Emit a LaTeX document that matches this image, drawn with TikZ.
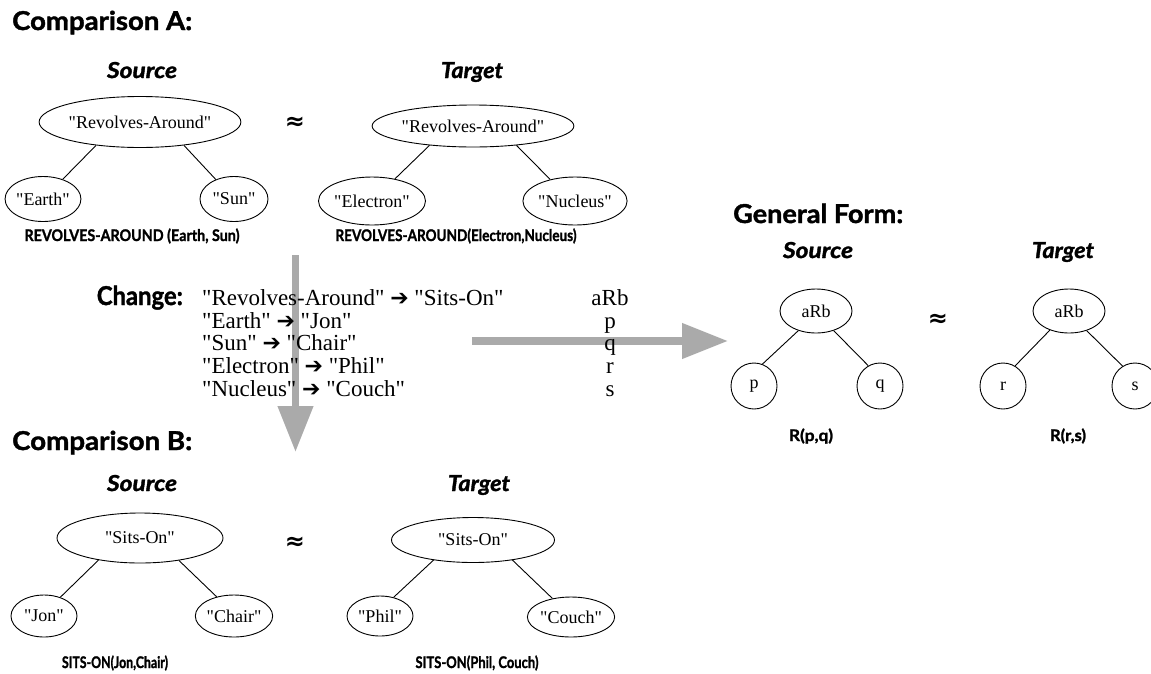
\documentclass[tikz,border=0pt]{standalone}
\usepackage{graphicx}
\usepackage{fontspec}
\setmainfont{Liberation Serif}[Ligatures=TeXOff]
\newfontfamily\gillfont{Lato}[BoldFeatures={FakeBold=1.5}, BoldItalicFeatures={FakeBold=1.5}]
\newfontfamily\symfont{DejaVu Sans}
\usetikzlibrary{arrows.meta,shapes.geometric}
\definecolor{flowgrey}{RGB}{170,170,170}
\newcommand\chg{{\symfont\fontsize{22}{22}\selectfont ➔}}
% stretch or squeeze a text horizontally to a given width
\newcommand\wfit[2]{\resizebox{#1}{\height}{#2}}

\tikzset{
  term/.style={ellipse, draw, line width=0.9pt, inner sep=0pt, font=\fontsize{18}{20}\selectfont},
  leaf/.style={circle, draw, line width=0.9pt, inner sep=0pt, minimum size=46pt, font=\fontsize{18}{20}\selectfont},
  heading/.style={font=\gillfont\bfseries\fontsize{26}{28}\selectfont, inner sep=0pt, anchor=base west},
  role/.style={font=\gillfont\bfseries\itshape\fontsize{22}{24}\selectfont, inner sep=0pt, anchor=base},
  formula/.style={font=\gillfont\bfseries\fontsize{16}{18}\selectfont, inner sep=0pt, anchor=base},
  approx/.style={font=\symfont\bfseries\fontsize{24}{24}\selectfont, inner sep=0pt},
  rule/.style={font=\fontsize{23}{23}\selectfont, inner sep=0pt, anchor=base west},
  var/.style={font=\fontsize{23}{23}\selectfont, inner sep=0pt, anchor=base},
  link/.style={line width=0.9pt},
  flow/.style={line width=7.5pt, draw=flowgrey, -{Triangle[length=46pt,width=34pt]}},
}

\begin{document}
\begin{tikzpicture}[x=1pt, y=-1pt]
\useasboundingbox (0,0) rectangle (1151,673);

% ---- grey flow arrows (behind the text) ----
\coordinate (vtop) at (295.5,255);
\coordinate (vend) at (295.5,452);
\coordinate (htop) at (472,341);
\coordinate (hend) at (728,341);
\draw[flow] (vtop) -- (vend);
\draw[flow] (htop) -- (hend);

% ---- Comparison A ----
\node[heading] (hA) at (12,30) {\wfit{180pt}{Comparison A:}};
\node[role] (srcA) at (142,78) {\wfit{70pt}{Source}};
\node[role] (tgtA) at (472,78) {\wfit{62pt}{Target}};
\node[approx] (apA) at (295,123) {≈};

\node[term, minimum width=166pt, minimum height=51pt] (ra1) at (140,122) {"Revolves-Around"};
\node[term, minimum width=66pt, minimum height=45pt] (earth) at (43,199) {"Earth"};
\node[term, minimum width=68pt, minimum height=45pt] (sun) at (234,199) {"Sun"};
\draw[link] (ra1.208) -- (earth.45);
\draw[link] (ra1.332) -- (sun.133);

\node[term, minimum width=163pt, minimum height=42pt] (ra2) at (473,126) {"Revolves-Around"};
\node[term, minimum width=92pt, minimum height=48pt] (electron) at (372,201) {"Electron"};
\node[term, minimum width=92pt, minimum height=48pt] (nucleus) at (575,201) {"Nucleus"};
\draw[link] (ra2.204) -- (electron.44);
\draw[link] (ra2.336) -- (nucleus.139);

\node[formula] (fA1) at (132,241) {\wfit{215pt}{REVOLVES-AROUND (Earth, Sun)}};
\node[formula] (fA2) at (456,241) {\wfit{241pt}{REVOLVES-AROUND(Electron,Nucleus)}};

% ---- Change list ----
\node[heading, anchor=base east] (hC) at (183,305) {\wfit{86pt}{Change:}};
\node[rule] (c1) at (202,305) {"Revolves-Around" \chg{} "Sits-On"};
\node[rule] (c2) at (202,328) {"Earth" \chg{} "Jon"};
\node[rule] (c3) at (202,350) {"Sun" \chg{} "Chair"};
\node[rule] (c4) at (202,373) {"Electron" \chg{} "Phil"};
\node[rule] (c5) at (202,396) {"Nucleus" \chg{} "Couch"};
\node[var] (v1) at (610,305) {aRb};
\node[var] (v2) at (610,328) {p};
\node[var] (v3) at (610,350) {q};
\node[var] (v4) at (610,373) {r};
\node[var] (v5) at (610,396) {s};

% ---- General Form ----
\node[heading] (hG) at (733,223) {\wfit{170pt}{General Form:}};
\node[role] (srcG) at (818,258) {\wfit{70pt}{Source}};
\node[role] (tgtG) at (1063,258) {\wfit{62pt}{Target}};
\node[approx] (apG) at (938,320) {≈};

\node[term, minimum width=72pt, minimum height=44pt] (arb1) at (816,311) {aRb};
\node[leaf] (p) at (754,386) {p};
\node[leaf] (q) at (880,386) {q};
\draw[link] (arb1.228) -- (p.69);
\draw[link] (arb1.312) -- (q.120);

\node[term, minimum width=72pt, minimum height=44pt] (arb2) at (1069,311) {aRb};
\node[leaf] (r) at (1003,386) {r};
\node[leaf] (s) at (1135,386) {s};
\draw[link] (arb2.225) -- (r.59);
\draw[link] (arb2.312) -- (s.122);

\node[formula] (fG1) at (811,441) {\wfit{44pt}{R(p,q)}};
\node[formula] (fG2) at (1068,441) {\wfit{36pt}{R(r,s)}};

% ---- Comparison B ----
\node[heading] (hB) at (12,450) {\wfit{180pt}{Comparison B:}};
\node[role] (srcB) at (142,491) {\wfit{70pt}{Source}};
\node[role] (tgtB) at (479,491) {\wfit{62pt}{Target}};
\node[approx] (apB) at (295,543) {≈};

\node[term, minimum width=166pt, minimum height=50pt] (so1) at (140,538) {"Sits-On"};
\node[term, minimum width=66pt, minimum height=42pt] (jon) at (44,616) {"Jon"};
\node[term, minimum width=72pt, minimum height=42pt] (chair) at (234,616) {"Chair"};
\draw[link] (so1.208) -- (jon.49);
\draw[link] (so1.330) -- (chair.132);

\node[term, minimum width=163pt, minimum height=45pt] (so2) at (473,540) {"Sits-On"};
\node[term, minimum width=66pt, minimum height=40pt] (phil) at (380,616) {"Phil"};
\node[term, minimum width=82pt, minimum height=40pt] (couch) at (571,617) {"Couch"};
\draw[link] (so2.207) -- (phil.54);
\draw[link] (so2.333) -- (couch.135);

\node[formula] (fB1) at (115,668) {\wfit{106pt}{SITS-ON(Jon,Chair)}};
\node[formula] (fB2) at (477,668) {\wfit{123pt}{SITS-ON(Phil, Couch)}};
\end{tikzpicture}
\end{document}
